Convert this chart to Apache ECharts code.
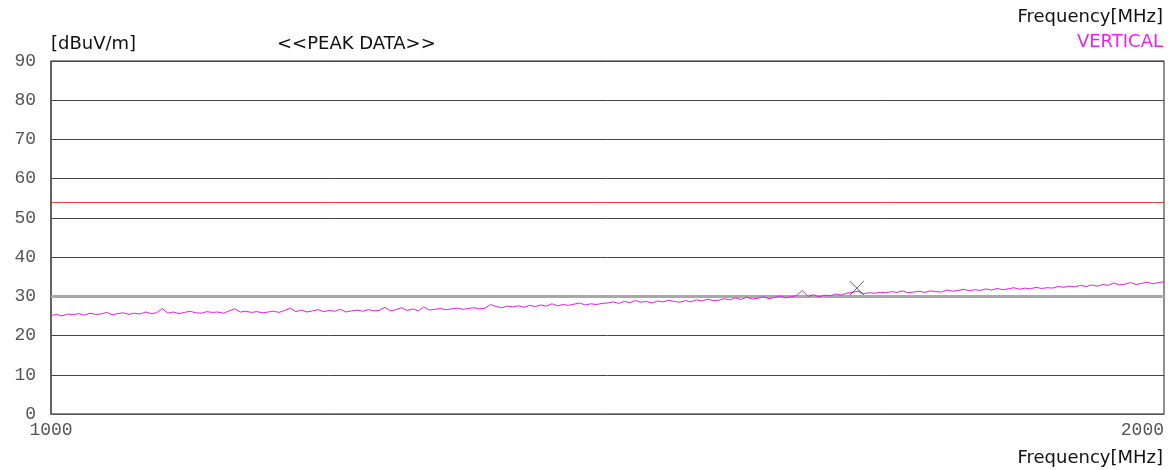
<!DOCTYPE html>
<html>
<head>
<meta charset="utf-8">
<script src="https://cdn.jsdelivr.net/npm/echarts@6/dist/echarts.min.js"></script>
<style>html,body{margin:0;padding:0;background:#fff;}#c{width:1171px;height:470px;}</style>
</head>
<body>
<div id="c"></div>
<script>
// Frequency sweep points (MHz)
var freqs = [
1000,1005,1010,1015,1020,1025,1030,1035,1040,1045,1050,1055,1060,1065,1070,1075,1080,1085,1090,1095,
1100,1105,1110,1115,1120,1125,1130,1135,1140,1145,1150,1155,1160,1165,1170,1175,1180,1185,1190,1195,
1200,1205,1210,1215,1220,1225,1230,1235,1240,1245,1250,1255,1260,1265,1270,1275,1280,1285,1290,1295,
1300,1305,1310,1315,1320,1325,1330,1335,1340,1345,1350,1355,1360,1365,1370,1375,1380,1385,1390,1395,
1400,1405,1410,1415,1420,1425,1430,1435,1440,1445,1450,1455,1460,1465,1470,1475,1480,1485,1490,1495,
1500,1505,1510,1515,1520,1525,1530,1535,1540,1545,1550,1555,1560,1565,1570,1575,1580,1585,1590,1595,
1600,1605,1610,1615,1620,1625,1630,1635,1640,1645,1650,1655,1660,1665,1670,1675,1680,1685,1690,1695,
1700,1705,1710,1715,1720,1725,1730,1735,1740,1745,1750,1755,1760,1765,1770,1775,1780,1785,1790,1795,
1800,1805,1810,1815,1820,1825,1830,1835,1840,1845,1850,1855,1860,1865,1870,1875,1880,1885,1890,1895,
1900,1905,1910,1915,1920,1925,1930,1935,1940,1945,1950,1955,1960,1965,1970,1975,1980,1985,1990,1995,
2000];
// Peak trace, vertical polarisation (dBuV/m)
var vertical = [
25.1,25.4,25.0,25.5,25.3,25.6,25.2,25.7,25.4,25.5,25.9,25.3,25.6,25.8,25.4,25.7,25.5,26.0,25.6,25.8,
26.9,25.7,26.0,25.6,25.9,26.2,25.8,25.7,26.1,25.9,26.0,25.7,26.3,26.8,26.0,26.2,25.9,26.1,25.8,26.0,
26.2,25.9,26.4,27.0,26.1,26.5,26.0,26.3,26.6,26.1,26.4,26.2,26.7,26.0,26.3,26.5,26.2,26.6,26.3,26.4,
27.2,26.3,26.6,27.1,26.4,26.8,26.3,27.3,26.5,26.7,26.9,26.6,26.8,27.0,26.7,26.9,27.1,26.8,27.0,27.9,
27.4,27.1,27.5,27.3,27.6,27.2,27.7,27.4,27.8,27.5,28.1,27.6,27.9,27.7,28.0,28.3,27.8,28.1,27.9,28.2,
28.3,28.6,28.2,28.7,28.4,28.9,28.5,28.7,28.3,28.8,28.6,29.0,28.7,28.5,28.9,28.6,29.1,28.8,29.3,28.9,
29.0,29.4,29.1,29.6,29.2,29.8,29.3,29.5,29.9,29.4,29.7,30.1,29.6,29.9,30.2,31.5,30.0,30.4,29.9,30.3,
30.1,30.6,30.3,30.8,31.0,31.3,30.7,30.9,30.8,31.0,30.9,31.2,31.0,31.4,30.9,31.1,31.3,31.0,31.4,31.2,
31.1,31.6,31.3,31.5,31.8,31.4,31.7,31.5,31.9,31.6,32.0,31.7,31.9,32.2,31.8,32.1,31.9,32.3,32.0,32.2,
32.1,32.5,32.3,32.6,32.4,32.8,32.5,32.9,32.6,33.0,32.8,33.4,32.9,33.1,33.5,33.0,33.3,33.6,33.2,33.5,
33.7];
var limitLine = 54;
var referenceLine = 30;
var peakMarker = [1724, 32.1];
var yTicks = [0,10,20,30,40,50,60,70,80,90];
var xTicks = [1000, 2000];

var traceData = freqs.map(function (f, i) { return [f, vertical[i]]; });

var chart = echarts.init(document.getElementById('c'));
var monoFont = '"Liberation Mono", "DejaVu Sans Mono", monospace';
var sansFont = '"DejaVu Sans", "Liberation Sans", Arial, sans-serif';
chart.setOption({
  animation: false,
  backgroundColor: '#ffffff',
  grid: { left: 51, right: 7, top: 61, bottom: 56, show: true, borderColor: '#222', borderWidth: 1 },
  xAxis: {
    type: 'value', min: xTicks[0], max: xTicks[1], interval: 1000,
    axisLine: { show: true, lineStyle: { color: '#555', width: 1 } },
    axisTick: { show: false },
    splitLine: { show: false },
    axisLabel: { color: '#555', fontFamily: monoFont, fontSize: 18, margin: 7,
      alignMinLabel: 'center', alignMaxLabel: 'right',
      formatter: function (v) { return String(v); } }
  },
  yAxis: {
    type: 'value', min: yTicks[0], max: yTicks[yTicks.length - 1], interval: 10,
    axisLine: { show: true, lineStyle: { color: '#555', width: 1.5 } },
    axisTick: { show: false },
    splitLine: { show: true, lineStyle: { color: '#444', width: 1 } },
    axisLabel: { color: '#555', fontFamily: monoFont, fontSize: 18, margin: 15,
      formatter: function (v) { return String(v); } }
  },
  graphic: [
    { type: 'text', left: 51, top: 35, style: { text: '[dBuV/m]', font: '18px ' + sansFont, fill: '#111' } },
    { type: 'text', left: 277, top: 35, style: { text: '<<PEAK DATA>>', font: '18px ' + sansFont, fill: '#111' } },
    { type: 'text', right: 8, top: 8, style: { text: 'Frequency[MHz]', font: '18px ' + sansFont, fill: '#111' } },
    { type: 'text', right: 8, top: 33, style: { text: 'VERTICAL', font: '18px ' + sansFont, fill: '#ee22ee' } },
    { type: 'text', right: 8, top: 449, style: { text: 'Frequency[MHz]', font: '18px ' + sansFont, fill: '#111' } }
  ],
  series: [
    {
      type: 'line', data: traceData, showSymbol: false, symbol: 'none',
      lineStyle: { color: '#e020e0', width: 1 }, z: 5,
      markLine: {
        silent: true, symbol: 'none', label: { show: false },
        data: [
          { yAxis: referenceLine, lineStyle: { color: '#a8a8a8', width: 3, type: 'solid' } },
          { yAxis: limitLine, lineStyle: { color: '#e04040', width: 1, type: 'solid' } }
        ]
      }
    },
    {
      type: 'scatter', data: [peakMarker], symbol: 'path://M0,0L10,10M10,0L0,10', symbolSize: 14,
      itemStyle: { color: 'none', borderColor: '#333', borderWidth: 1 }, z: 10
    }
  ]
});
</script>
</body>
</html>
